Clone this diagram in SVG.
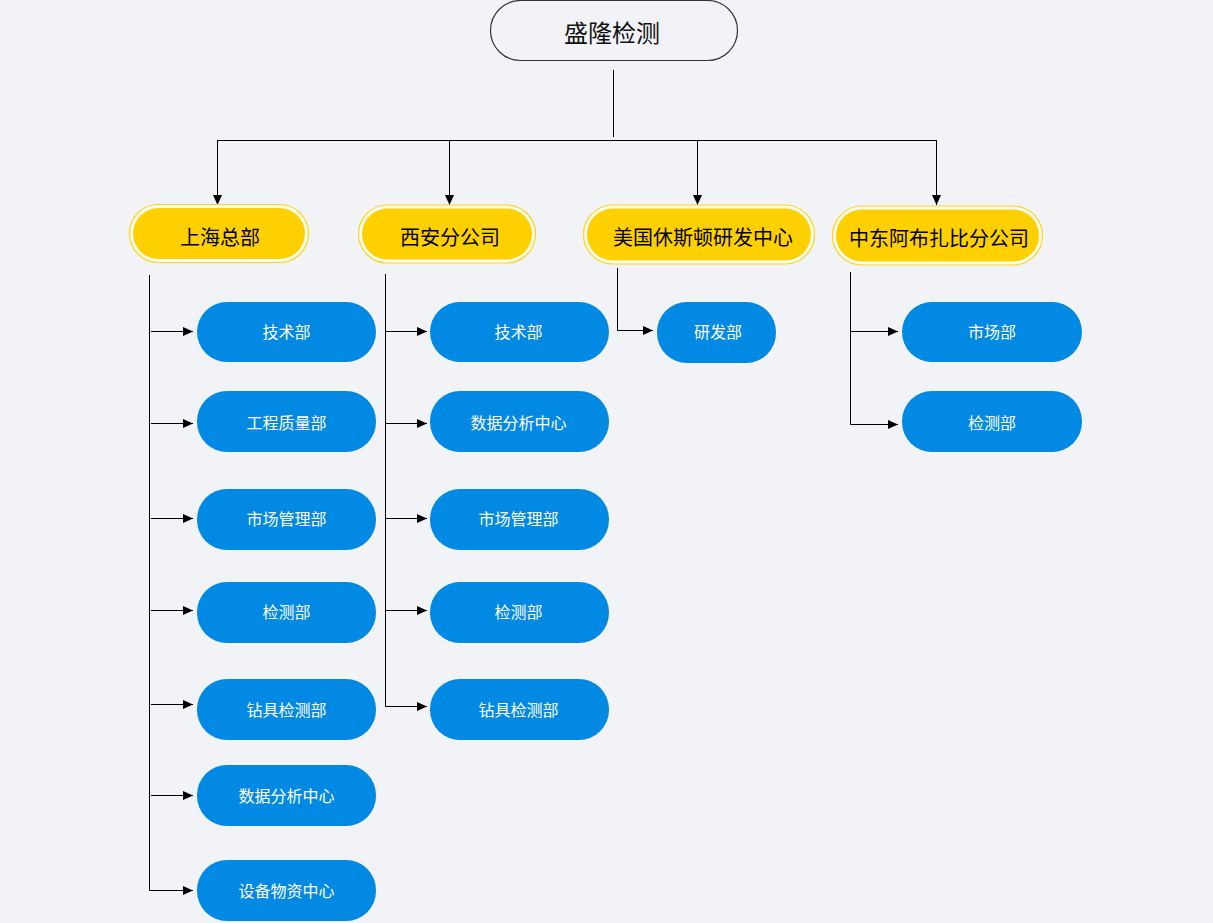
<svg xmlns="http://www.w3.org/2000/svg" width="1213" height="923" viewBox="0 0 1213 923">
<defs>
<marker id="arr" markerUnits="userSpaceOnUse" markerWidth="11" markerHeight="10" refX="10" refY="5" orient="auto">
<path d="M0,0.5 L10,5 L0,9.5 z" fill="#000"/>
</marker>
<style>
.bg{fill:#f2f3f7}
.conn{fill:none;stroke:#000;stroke-width:1}
.yo{fill:#fffdf0;stroke:#ffd21c;stroke-width:1.2}
.yi{fill:#ffd000}
.yt{font-family:"Noto Sans CJK SC","Noto Sans",sans-serif;font-size:20px;fill:#000;text-anchor:middle;dominant-baseline:central}
.b{fill:#0289e3}
.bt{font-family:"Noto Sans CJK SC","Noto Sans",sans-serif;font-size:16px;fill:#fff;text-anchor:middle;dominant-baseline:central}
.top{fill:#f2f3f7;stroke:#333;stroke-width:1.2}
.tt{font-family:"Noto Sans CJK SC","Noto Sans",sans-serif;font-size:24px;fill:#111;text-anchor:middle;dominant-baseline:central}
</style>
</defs>
<rect class="bg" x="0" y="0" width="1213" height="923"/>

<g id="connectors">
<line class="conn" x1="613.5" y1="70" x2="613.5" y2="137"/>
<line class="conn" x1="217" y1="140.5" x2="936" y2="140.5"/>
<line class="conn" x1="217.5" y1="140" x2="217.5" y2="205" marker-end="url(#arr)"/>
<line class="conn" x1="449.5" y1="140" x2="449.5" y2="205" marker-end="url(#arr)"/>
<line class="conn" x1="697.5" y1="140" x2="697.5" y2="205" marker-end="url(#arr)"/>
<line class="conn" x1="936.5" y1="140" x2="936.5" y2="205" marker-end="url(#arr)"/>

<path class="conn" d="M149.5,275 V890.5 H193" marker-end="url(#arr)"/>
<line class="conn" x1="151" y1="331.5" x2="193" y2="331.5" marker-end="url(#arr)"/>
<line class="conn" x1="151" y1="423.5" x2="193" y2="423.5" marker-end="url(#arr)"/>
<line class="conn" x1="151" y1="518.5" x2="193" y2="518.5" marker-end="url(#arr)"/>
<line class="conn" x1="151" y1="610.5" x2="193" y2="610.5" marker-end="url(#arr)"/>
<line class="conn" x1="151" y1="704.5" x2="193" y2="704.5" marker-end="url(#arr)"/>
<line class="conn" x1="151" y1="795.5" x2="193" y2="795.5" marker-end="url(#arr)"/>

<path class="conn" d="M385.5,274 V706.5 H427" marker-end="url(#arr)"/>
<line class="conn" x1="386" y1="331.5" x2="427" y2="331.5" marker-end="url(#arr)"/>
<line class="conn" x1="386" y1="423.5" x2="427" y2="423.5" marker-end="url(#arr)"/>
<line class="conn" x1="386" y1="518.5" x2="427" y2="518.5" marker-end="url(#arr)"/>
<line class="conn" x1="386" y1="610.5" x2="427" y2="610.5" marker-end="url(#arr)"/>

<path class="conn" d="M617.5,268 V330.5 H653" marker-end="url(#arr)"/>

<path class="conn" d="M850.5,272 V424.5 H898" marker-end="url(#arr)"/>
<line class="conn" x1="851" y1="331.5" x2="898" y2="331.5" marker-end="url(#arr)"/>
</g>

<g id="root">
<rect class="top" x="490.5" y="0.5" width="247" height="60" rx="30"/>
<text class="tt" x="612" y="31">盛隆检测</text>
</g>

<g id="shanghai">
<rect class="yo" x="129.5" y="204.5" width="179" height="58" rx="29"/>
<rect class="yi" x="133" y="208" width="172" height="51" rx="25.5"/>
<text class="yt" x="220" y="236">上海总部</text>
</g>
<g id="xian">
<rect class="yo" x="358.5" y="205" width="177" height="58" rx="29"/>
<rect class="yi" x="362" y="208.5" width="170" height="51" rx="25.5"/>
<text class="yt" x="450" y="236.5">西安分公司</text>
</g>
<g id="houston">
<rect class="yo" x="583.5" y="205" width="231" height="59" rx="29.5"/>
<rect class="yi" x="587" y="208.5" width="224" height="52" rx="26"/>
<text class="yt" x="703" y="236.5">美国休斯顿研发中心</text>
</g>
<g id="abudhabi">
<rect class="yo" x="832.5" y="206" width="210" height="59" rx="29.5"/>
<rect class="yi" x="836" y="209.5" width="203" height="52" rx="26"/>
<text class="yt" x="939" y="237">中东阿布扎比分公司</text>
</g>

<g id="sh-1"><rect class="b" x="197" y="302" width="179" height="60" rx="30"/><text class="bt" x="286.5" y="331">技术部</text></g>
<g id="sh-2"><rect class="b" x="197" y="391" width="179" height="61" rx="30"/><text class="bt" x="286.5" y="422">工程质量部</text></g>
<g id="sh-3"><rect class="b" x="197" y="489" width="179" height="61" rx="30"/><text class="bt" x="286.5" y="518">市场管理部</text></g>
<g id="sh-4"><rect class="b" x="197" y="582" width="179" height="61" rx="30"/><text class="bt" x="286.5" y="611">检测部</text></g>
<g id="sh-5"><rect class="b" x="197" y="679" width="179" height="61" rx="30"/><text class="bt" x="286.5" y="709">钻具检测部</text></g>
<g id="sh-6"><rect class="b" x="197" y="765" width="179" height="61" rx="30"/><text class="bt" x="286.5" y="795">数据分析中心</text></g>
<g id="sh-7"><rect class="b" x="197" y="860" width="179" height="61" rx="30"/><text class="bt" x="286.5" y="890">设备物资中心</text></g>

<g id="xa-1"><rect class="b" x="430" y="302" width="179" height="60" rx="30"/><text class="bt" x="518.5" y="331">技术部</text></g>
<g id="xa-2"><rect class="b" x="430" y="391" width="179" height="61" rx="30"/><text class="bt" x="518.5" y="422">数据分析中心</text></g>
<g id="xa-3"><rect class="b" x="430" y="489" width="179" height="61" rx="30"/><text class="bt" x="518.5" y="518">市场管理部</text></g>
<g id="xa-4"><rect class="b" x="430" y="582" width="179" height="61" rx="30"/><text class="bt" x="518.5" y="611">检测部</text></g>
<g id="xa-5"><rect class="b" x="430" y="679" width="179" height="61" rx="30"/><text class="bt" x="518.5" y="709">钻具检测部</text></g>

<g id="us-1"><rect class="b" x="657" y="302" width="119" height="61" rx="30"/><text class="bt" x="718" y="331">研发部</text></g>

<g id="me-1"><rect class="b" x="902" y="302" width="180" height="60" rx="30"/><text class="bt" x="992" y="331">市场部</text></g>
<g id="me-2"><rect class="b" x="902" y="391" width="180" height="61" rx="30"/><text class="bt" x="992" y="422">检测部</text></g>
</svg>
